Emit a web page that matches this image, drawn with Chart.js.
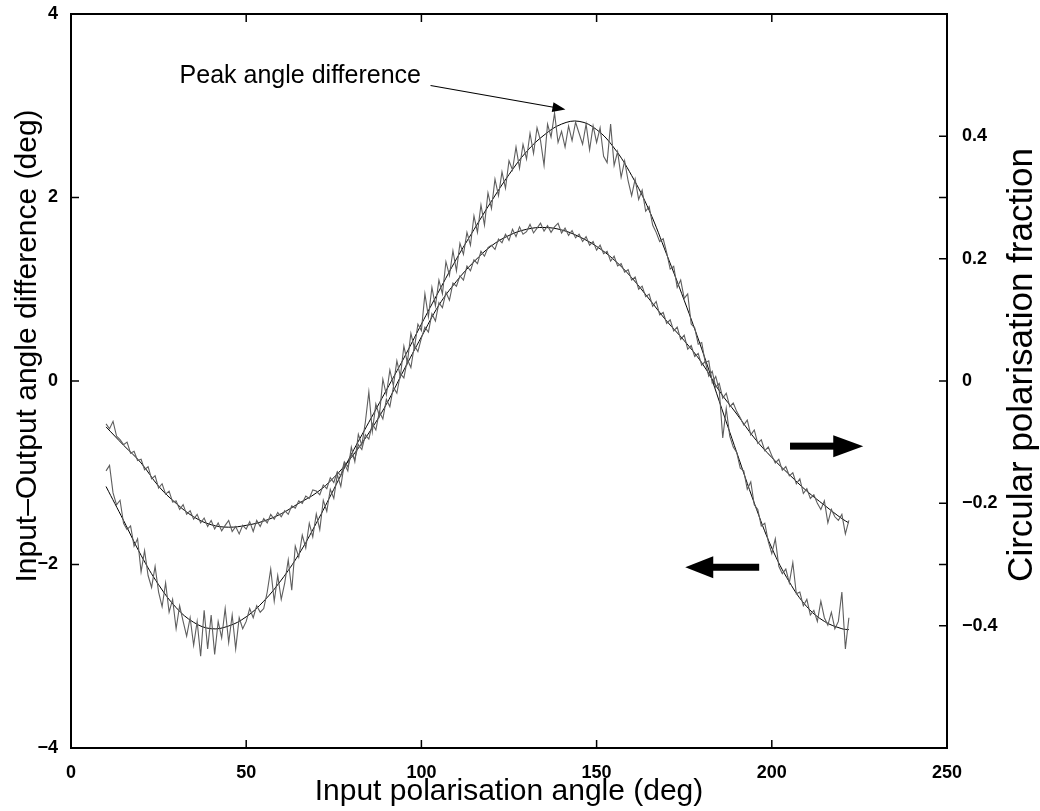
<!DOCTYPE html>
<html>
<head>
<meta charset="utf-8">
<script src="https://cdn.jsdelivr.net/npm/chart.js@4.4.1/dist/chart.umd.min.js"></script>
<style>
  html, body { margin: 0; padding: 0; background: #fff; }
  #wrap { width: 1040px; height: 811px; }
</style>
</head>
<body>
<div id="wrap"><canvas id="polChart" width="1040" height="811"></canvas></div>
<script>
// measured samples, one per degree starting at 10 deg
const sampleStart = 10;
const sampleStep = 1;

// input-output angle difference (deg), left axis
const angleDiff = [
  -0.98, -0.92, -1.22, -1.35, -1.30, -1.55, -1.62, -1.58, -1.80, -1.72,
  -2.08, -1.85, -2.12, -2.25, -2.02, -2.30, -2.46, -2.20, -2.52, -2.38,
  -2.70, -2.45, -2.62, -2.78, -2.58, -2.88, -2.62, -3.00, -2.50, -2.92,
  -2.55, -2.98, -2.62, -2.80, -2.48, -2.85, -2.55, -2.92, -2.58, -2.70,
  -2.62, -2.48, -2.58, -2.45, -2.52, -2.48, -2.30, -2.05, -2.40, -2.12,
  -2.38, -2.20, -1.95, -2.28, -1.80, -1.92, -1.68, -1.82, -1.55, -1.70,
  -1.45, -1.62, -1.30, -1.42, -1.18, -1.28, -1.02, -1.15, -0.90, -0.98,
  -0.72, -0.88, -0.58, -0.70, -0.45, -0.12, -0.55, -0.25, -0.38, 0.02,
  -0.15, 0.12, -0.05, 0.22, 0.05, 0.38, 0.20, 0.52, 0.36, 0.62,
  0.55, 0.95, 0.70, 1.02, 0.82, 1.10, 0.95, 1.30, 1.15, 1.42,
  1.20, 1.50, 1.38, 1.62, 1.48, 1.80, 1.62, 1.92, 1.70, 2.05,
  1.88, 2.20, 2.02, 2.28, 2.10, 2.40, 2.30, 2.55, 2.32, 2.58,
  2.42, 2.70, 2.48, 2.76, 2.62, 2.35, 2.80, 2.66, 2.92, 2.60,
  2.72, 2.55, 2.78, 2.62, 2.82, 2.70, 2.58, 2.80, 2.52, 2.78,
  2.60, 2.76, 2.45, 2.38, 2.80, 2.35, 2.50, 2.22, 2.40, 2.18,
  2.02, 2.20, 1.98, 2.08, 1.85, 1.90, 1.70, 1.62, 1.52, 1.55,
  1.40, 1.22, 1.25, 1.02, 1.10, 0.90, 0.95, 0.62, 0.58, 0.40,
  0.42, 0.20, 0.22, -0.02, 0.05, -0.10, -0.62, -0.30, -0.60, -0.72,
  -0.78, -0.95, -0.98, -1.18, -1.10, -1.35, -1.40, -1.58, -1.55, -1.75,
  -1.88, -1.72, -2.02, -2.10, -2.05, -2.20, -1.98, -2.32, -2.30, -2.45,
  -2.38, -2.55, -2.50, -2.62, -2.40, -2.58, -2.66, -2.52, -2.70, -2.62,
  -2.30, -2.92, -2.58
];

// circular polarisation fraction, right axis
const circFraction = [
  -0.070, -0.078, -0.066, -0.090, -0.096, -0.104, -0.100, -0.118, -0.115, -0.130,
  -0.128, -0.145, -0.140, -0.160, -0.155, -0.175, -0.168, -0.185, -0.180, -0.198,
  -0.196, -0.210, -0.202, -0.218, -0.212, -0.226, -0.218, -0.232, -0.224, -0.238,
  -0.228, -0.242, -0.232, -0.245, -0.236, -0.228, -0.246, -0.238, -0.250, -0.236,
  -0.242, -0.230, -0.246, -0.228, -0.238, -0.225, -0.232, -0.218, -0.226, -0.215,
  -0.222, -0.212, -0.218, -0.204, -0.208, -0.196, -0.200, -0.188, -0.192, -0.178,
  -0.180, -0.186, -0.170, -0.176, -0.158, -0.166, -0.148, -0.155, -0.132, -0.140,
  -0.120, -0.128, -0.104, -0.112, -0.088, -0.095, -0.070, -0.080, -0.050, -0.062,
  -0.030, -0.042, -0.010, -0.020, 0.012, 0.005, 0.035, 0.022, 0.058, 0.048,
  0.070, 0.088, 0.080, 0.110, 0.098, 0.128, 0.120, 0.145, 0.132, 0.160,
  0.155, 0.172, 0.165, 0.188, 0.180, 0.198, 0.192, 0.212, 0.204, 0.218,
  0.222, 0.215, 0.232, 0.226, 0.240, 0.230, 0.248, 0.236, 0.252, 0.240,
  0.244, 0.256, 0.242, 0.250, 0.258, 0.245, 0.254, 0.243, 0.252, 0.258,
  0.242, 0.250, 0.238, 0.246, 0.234, 0.240, 0.228, 0.236, 0.222, 0.228,
  0.214, 0.222, 0.208, 0.212, 0.196, 0.204, 0.188, 0.192, 0.178, 0.182,
  0.165, 0.170, 0.150, 0.155, 0.138, 0.142, 0.122, 0.130, 0.108, 0.112,
  0.094, 0.100, 0.082, 0.088, 0.068, 0.075, 0.052, 0.058, 0.040, 0.045,
  0.026, 0.032, 0.008, 0.016, -0.010, -0.004, -0.028, -0.020, -0.042, -0.036,
  -0.050, -0.060, -0.072, -0.064, -0.088, -0.080, -0.102, -0.096, -0.114, -0.108,
  -0.122, -0.134, -0.128, -0.146, -0.140, -0.155, -0.150, -0.168, -0.160, -0.184,
  -0.176, -0.192, -0.186, -0.200, -0.210, -0.196, -0.232, -0.210, -0.222, -0.228,
  -0.218, -0.250, -0.228
];

// fitted curves
const fitAngles = [10, 15, 20, 25, 30, 35, 40, 45, 50, 55, 60, 65, 70, 75, 80, 85, 90, 95, 100,
  105, 110, 115, 120, 125, 130, 135, 140, 145, 150, 155, 160, 165, 170, 175, 180, 185, 190,
  195, 200, 205, 210, 215, 220, 222];
const angleDiffFit = [-1.15, -1.52, -1.90, -2.22, -2.47, -2.63, -2.70, -2.67, -2.57, -2.40,
  -2.17, -1.89, -1.55, -1.18, -0.80, -0.45, -0.10, 0.25, 0.62, 0.98, 1.33, 1.65, 1.96, 2.25,
  2.50, 2.68, 2.80, 2.83, 2.74, 2.54, 2.24, 1.86, 1.38, 0.88, 0.35, -0.22, -0.78, -1.33,
  -1.82, -2.19, -2.46, -2.62, -2.70, -2.71];
const circFractionFit = [-0.075, -0.105, -0.134, -0.172, -0.200, -0.222, -0.235, -0.239,
  -0.236, -0.229, -0.217, -0.200, -0.183, -0.158, -0.125, -0.085, -0.038, 0.018, 0.072,
  0.124, 0.163, 0.195, 0.221, 0.238, 0.248, 0.251, 0.247, 0.236, 0.220, 0.198, 0.169,
  0.134, 0.098, 0.066, 0.030, -0.016, -0.054, -0.093, -0.125, -0.153, -0.180, -0.203,
  -0.225, -0.232];

// axis ticks
const xTicks = [0, 50, 100, 150, 200, 250];
const leftTicks = [-4, -2, 0, 2, 4];
const rightTicks = [-0.4, -0.3, -0.2, 0, 0.2, 0.3, 0.4];
const rightTickLabels = ['\u22120.4', '', '\u22120.2', '0', '0.2', '', '0.4'];

const SANS = '"Liberation Sans", Arial, Helvetica, sans-serif';

function samples(values) {
  return values.map((v, i) => ({ x: sampleStart + i * sampleStep, y: v }));
}
function fitted(values) {
  return values.map((v, i) => ({ x: fitAngles[i], y: v }));
}

function drawArrow(ctx, x0, y0, x1, y1, shaft, headLen, headHalf) {
  const ang = Math.atan2(y1 - y0, x1 - x0);
  const len = Math.hypot(x1 - x0, y1 - y0);
  ctx.save();
  ctx.translate(x0, y0);
  ctx.rotate(ang);
  ctx.fillStyle = '#000';
  if (shaft > 1.5) {
    ctx.fillRect(0, -shaft / 2, len - headLen + 1, shaft);
  } else {
    ctx.lineWidth = shaft;
    ctx.beginPath();
    ctx.moveTo(0, 0);
    ctx.lineTo(len - headLen + 1, 0);
    ctx.stroke();
  }
  ctx.beginPath();
  ctx.moveTo(len, 0);
  ctx.lineTo(len - headLen, -headHalf);
  ctx.lineTo(len - headLen, headHalf);
  ctx.closePath();
  ctx.fill();
  ctx.restore();
}

function verticalText(ctx, text, cx, cy, font) {
  ctx.save();
  ctx.translate(cx, cy);
  ctx.rotate(-Math.PI / 2);
  ctx.font = font;
  ctx.textAlign = 'center';
  ctx.textBaseline = 'middle';
  ctx.fillText(text, 0, 0);
  ctx.restore();
}

// vertical scales: no extra room for the end labels, the plot box is fixed
function fixVertical(width) {
  return s => {
    s.width = width;
    s.paddingTop = 0;
    s.paddingBottom = 0;
  };
}

// box, inward tick marks, side titles and annotations
const frameAndNotes = {
  id: 'frameAndNotes',
  afterDatasetsDraw(chart) {
    const { ctx, chartArea: a, scales } = chart;
    const { x, y, y2 } = scales;
    const len = 8;
    ctx.save();
    ctx.strokeStyle = '#000';
    ctx.lineWidth = 2;
    ctx.beginPath();
    ctx.moveTo(a.left - 1, a.top);
    ctx.lineTo(a.right + 1, a.top);
    ctx.stroke();

    ctx.lineWidth = 1.5;
    ctx.beginPath();
    xTicks.forEach(v => {
      const px = x.getPixelForValue(v);
      ctx.moveTo(px, a.bottom);
      ctx.lineTo(px, a.bottom - len);
      ctx.moveTo(px, a.top);
      ctx.lineTo(px, a.top + len);
    });
    leftTicks.forEach(v => {
      const py = y.getPixelForValue(v);
      ctx.moveTo(a.left, py);
      ctx.lineTo(a.left + len, py);
    });
    rightTicks.forEach(v => {
      const py = y2.getPixelForValue(v);
      ctx.moveTo(a.right, py);
      ctx.lineTo(a.right - len, py);
    });
    ctx.stroke();

    // both side titles read bottom to top
    ctx.fillStyle = '#000';
    verticalText(ctx, 'Input\u2013Output angle difference (deg)', 28, 346, '30px ' + SANS);
    verticalText(ctx, 'Circular polarisation fraction', 1022, 365, '35px ' + SANS);

    // peak label with pointer
    ctx.font = '25px ' + SANS;
    ctx.textBaseline = 'alphabetic';
    ctx.fillText('Peak angle difference', x.getPixelForValue(31), y.getPixelForValue(3.25));
    drawArrow(ctx, x.getPixelForValue(102.6), y.getPixelForValue(3.22),
      x.getPixelForValue(141.1), y.getPixelForValue(2.96), 1, 13, 5);

    // axis pointers
    drawArrow(ctx, x.getPixelForValue(205.2), y.getPixelForValue(-0.71),
      x.getPixelForValue(226.1), y.getPixelForValue(-0.71), 7, 30, 11);
    drawArrow(ctx, x.getPixelForValue(196.4), y.getPixelForValue(-2.03),
      x.getPixelForValue(175.3), y.getPixelForValue(-2.03), 7, 28, 11);
    ctx.restore();
  }
};

const ctx = document.getElementById('polChart').getContext('2d');
new Chart(ctx, {
  type: 'line',
  data: {
    datasets: [
      { label: 'Angle difference', data: samples(angleDiff), yAxisID: 'y',
        borderColor: '#5e5e5e', borderWidth: 1.1, pointRadius: 0, tension: 0 },
      { label: 'Circular fraction', data: samples(circFraction), yAxisID: 'y2',
        borderColor: '#5e5e5e', borderWidth: 1.1, pointRadius: 0, tension: 0 },
      { label: 'Angle difference fit', data: fitted(angleDiffFit), yAxisID: 'y',
        borderColor: '#000', borderWidth: 1, pointRadius: 0, tension: 0.4 },
      { label: 'Circular fraction fit', data: fitted(circFractionFit), yAxisID: 'y2',
        borderColor: '#000', borderWidth: 1, pointRadius: 0, tension: 0.4 }
    ]
  },
  options: {
    responsive: false,
    animation: false,
    layout: { padding: { top: 14, left: 0, right: 0, bottom: 0 } },
    plugins: { legend: { display: false }, tooltip: { enabled: false } },
    scales: {
      x: {
        type: 'linear', min: 0, max: 250,
        afterBuildTicks: s => { s.ticks = xTicks.map(v => ({ value: v })); },
        afterFit: s => { s.height = 63; },
        ticks: { color: '#000', padding: 14, maxRotation: 0, autoSkip: false,
          font: { family: SANS, size: 18, weight: 'bold' } },
        grid: { display: false, drawTicks: false },
        border: { display: true, color: '#000', width: 2 },
        title: { display: true, text: 'Input polarisation angle (deg)', color: '#000',
          font: { family: SANS, size: 30 }, padding: { top: 0, bottom: 1 } }
      },
      y: {
        position: 'left', min: -4, max: 4,
        afterBuildTicks: s => { s.ticks = leftTicks.map(v => ({ value: v })); },
        afterFit: fixVertical(71),
        ticks: { color: '#000', padding: 13,
          font: { family: SANS, size: 18, weight: 'bold' },
          callback: v => (v < 0 ? '\u2212' + Math.abs(v) : String(v)) },
        grid: { display: false, drawTicks: false },
        border: { display: true, color: '#000', width: 2 }
      },
      y2: {
        position: 'right', min: -0.6, max: 0.6,
        afterBuildTicks: s => { s.ticks = rightTicks.map(v => ({ value: v })); },
        afterFit: fixVertical(93),
        ticks: { color: '#000', padding: 15,
          font: { family: SANS, size: 18, weight: 'bold' },
          callback: (v, i) => rightTickLabels[i] },
        grid: { display: false, drawTicks: false },
        border: { display: true, color: '#000', width: 2 }
      }
    }
  },
  plugins: [frameAndNotes]
});
</script>
</body>
</html>
